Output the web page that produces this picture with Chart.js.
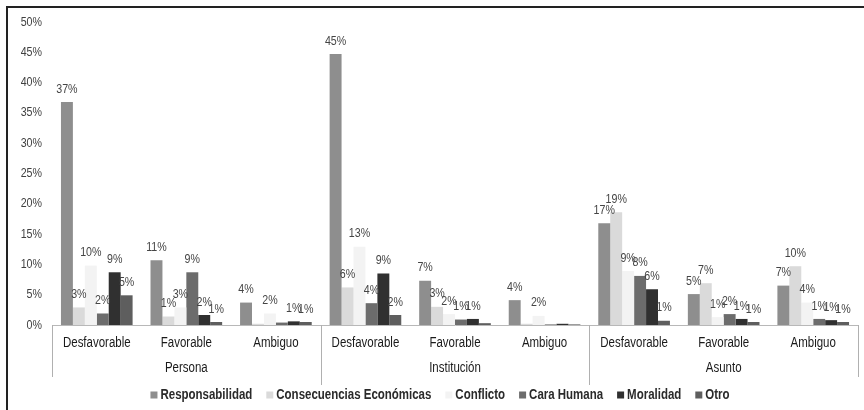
<!DOCTYPE html>
<html>
<head>
<meta charset="utf-8">
<script src="https://cdn.jsdelivr.net/npm/chart.js@4.4.1/dist/chart.umd.min.js"></script>
<style>
html,body{margin:0;padding:0;background:#fff;}
#wrap{width:864px;height:410px;position:relative;}
</style>
</head>
<body>
<div id="wrap"><canvas id="c" width="864" height="410"></canvas></div>
<script>
const categories = ['Desfavorable','Favorable','Ambiguo','Desfavorable','Favorable','Ambiguo','Desfavorable','Favorable','Ambiguo'];
const groups = ['Persona','Institución','Asunto'];
const seriesNames = ['Responsabilidad','Consecuencias Económicas','Conflicto','Cara Humana','Moralidad','Otro'];
const responsabilidad = [36.8, 10.7, 3.7, 44.7, 7.3, 4.1, 16.8, 5.1, 6.5];
const consecuencias   = [2.9, 1.4, 0.2, 6.2, 3.0, 0.2, 18.6, 6.9, 9.7];
const conflicto       = [9.8, 2.9, 1.9, 12.9, 1.8, 1.5, 8.9, 1.3, 3.7];
const caraHumana      = [1.9, 8.7, 0.4, 3.6, 0.9, 0.1, 8.1, 1.8, 1.0];
const moralidad       = [8.7, 1.65, 0.6, 8.5, 1.0, 0.2, 5.9, 1.0, 0.8];
const otro            = [4.9, 0.5, 0.5, 1.65, 0.3, 0.1, 0.7, 0.5, 0.5];
const yTicks = [0,5,10,15,20,25,30,35,40,45,50];

const colors = ['#8e8e8e','#dadada','#f3f3f3','#6c6c6c','#303030','#5e5e5e'];
const FONT = "'Liberation Sans','Arial',sans-serif";
const NARROW = 0.82;
const seriesData = [responsabilidad, consecuencias, conflicto, caraHumana, moralidad, otro];

function narrowText(ctx, text, x, y, align){
  ctx.save();
  ctx.translate(x, y);
  ctx.scale(NARROW, 1);
  ctx.textAlign = align;
  ctx.fillText(text, 0, 0);
  ctx.restore();
}

const decor = {
  id:'decor',
  beforeDraw(chart){
    const ctx = chart.ctx;
    ctx.save();
    ctx.strokeStyle = '#222';
    ctx.lineWidth = 2;
    ctx.beginPath();
    ctx.moveTo(7,410); ctx.lineTo(7,7); ctx.lineTo(864,7);
    ctx.stroke();
    ctx.restore();
  },
  afterDraw(chart){
    const ctx = chart.ctx;
    const x = chart.scales.x, y = chart.scales.y, area = chart.chartArea;
    ctx.save();
    ctx.textBaseline = 'middle';
    // y tick labels
    ctx.font = '13px ' + FONT;
    ctx.fillStyle = '#404040';
    y.ticks.forEach((t,i)=>{
      narrowText(ctx, t.value + '%', area.left - 10, y.getPixelForTick(i), 'right');
    });
    // x tick labels
    ctx.font = '14px ' + FONT;
    ctx.fillStyle = '#1a1a1a';
    x.ticks.forEach((t,i)=>{
      narrowText(ctx, x.getLabelForValue(t.value), x.getPixelForTick(i), 343, 'center');
    });
    // separators
    ctx.strokeStyle = '#b0b0b0';
    ctx.lineWidth = 1;
    const bounds = [area.left];
    for (let g=1; g<groups.length; g++){
      bounds.push((x.getPixelForValue(g*3-1)+x.getPixelForValue(g*3))/2);
    }
    bounds.push(area.right);
    bounds.forEach((b,i)=>{
      const bx = Math.round(b)+0.5;
      const end = (i===0||i===bounds.length-1)?377:385;
      ctx.beginPath(); ctx.moveTo(bx, area.bottom); ctx.lineTo(bx, end); ctx.stroke();
    });
    // group labels
    groups.forEach((g,i)=>{
      narrowText(ctx, g, (bounds[i]+bounds[i+1])/2, 368, 'center');
    });
    // legend
    ctx.font = 'bold 14px ' + FONT;
    const box = 7, gapBox = 3, gapItem = 14;
    const widths = seriesNames.map(n => box + gapBox + ctx.measureText(n).width*NARROW);
    const total = widths.reduce((a,b)=>a+b,0) + gapItem*(seriesNames.length-1);
    let lx = 440 - total/2;
    const ly = 395;
    seriesNames.forEach((n,i)=>{
      ctx.fillStyle = colors[i];
      ctx.fillRect(lx, ly-3.5, box, box);
      ctx.fillStyle = '#2a2a2a';
      narrowText(ctx, n, lx+box+gapBox, ly+0.5, 'left');
      lx += widths[i] + gapItem;
    });
    ctx.restore();
  },
  afterDatasetsDraw(chart){
    const ctx = chart.ctx;
    ctx.save();
    ctx.font = '13px ' + FONT;
    ctx.fillStyle = '#454545';
    ctx.textBaseline = 'middle';
    chart.data.datasets.forEach((ds,di)=>{
      const meta = chart.getDatasetMeta(di);
      meta.data.forEach((bar,i)=>{
        const v = Math.round(ds.data[i]);
        if (v >= 1) narrowText(ctx, v + '%', bar.x, bar.y - 13, 'center');
      });
    });
    ctx.restore();
  }
};

new Chart(document.getElementById('c'), {
  type:'bar',
  data:{
    labels: categories,
    datasets: seriesNames.map((n,i)=>({
      label:n, data:seriesData[i], backgroundColor:colors[i], borderWidth:0,
      categoryPercentage:0.8, barPercentage:1.0
    }))
  },
  options:{
    responsive:false,
    animation:false,
    devicePixelRatio:1,
    layout:{padding:{top:22,right:6,bottom:0,left:0}},
    plugins:{legend:{display:false}, tooltip:{enabled:false}},
    scales:{
      x:{
        grid:{display:false, drawTicks:false},
        border:{display:true, color:'#b8b8b8'},
        ticks:{display:false, autoSkip:false},
        afterFit(s){ s.height = 85; }
      },
      y:{
        min:0, max:50,
        afterBuildTicks(s){ s.ticks = yTicks.map(v=>({value:v})); },
        grid:{display:false, drawTicks:false},
        border:{display:false},
        ticks:{display:false},
        afterFit(s){ s.width = 52; }
      }
    }
  },
  plugins:[decor]
});
</script>
</body>
</html>
